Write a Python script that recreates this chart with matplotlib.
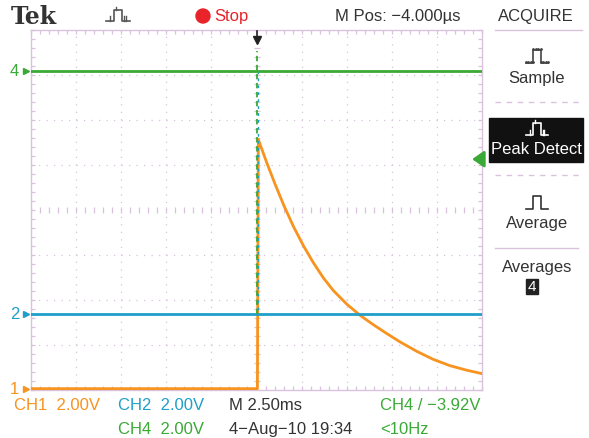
import numpy as np
import matplotlib
matplotlib.use("Agg")
import matplotlib.pyplot as plt
from matplotlib.patches import Rectangle, Circle

ch1_t = [-12.5, 0.05, 0.1, 0.565, 1.025, 1.485, 2.04, 2.595, 3.15, 3.70, 4.26,
         5.0, 5.74, 6.48, 7.22, 7.95, 8.88, 9.8, 10.73, 11.65, 12.48]
ch1_v = [0.0, 0.0, 11.08, 10.05, 9.1, 8.2, 7.22, 6.36, 5.6, 4.93, 4.36,
         3.76, 3.26, 2.84, 2.45, 2.08, 1.66, 1.3, 1.02, 0.82, 0.67]
ch2_t = [-12.5, 12.5]
ch2_v = [0.0, 0.0]
ch4_t = [-12.5, 12.5]
ch4_v = [0.0, 0.0]
# pico do modo peak detect no instante do disparo
spike_t = [0.0, 0.0]
ch4_spike_v = [-10.8, 0.9]
ch2_spike_v = [0.0, 10.9]
trig_t = 0.0
trig_level = -3.92

volts_div = 2.0
ms_div = 2.5
offset = {1: 0.03, 2: 1.69, 4: 7.09}  # posicao do terra de cada canal (div)

c_ch1 = "#f7931e"
c_ch2 = "#1f9fc9"
c_ch4 = "#3aa935"
c_grid = "#d9c3dc"
c_txt = "#333333"
c_red = "#e8232a"

plt.rcParams['font.family'] = ['Liberation Sans', 'DejaVu Sans']

W, H = 589, 439
fig = plt.figure(figsize=(W / 100, H / 100), dpi=100, facecolor="white")

# camada em pixels para textos e menus
ov = fig.add_axes([0, 0, 1, 1], facecolor="none", zorder=0)
ov.set_xlim(0, W)
ov.set_ylim(H, 0)
ov.axis("off")

ax = fig.add_axes([31 / W, 48 / H, 451 / W, 360 / H], facecolor="white", zorder=1)
ax.set_xlim(-5 * ms_div, 5 * ms_div)
ax.set_ylim(0, 8)


def to_div(v, ch):
    return np.array(v) / volts_div + offset[ch]


# graticula
for t in np.arange(-4, 5) * ms_div:
    if t != 0:
        ax.axvline(t, color=c_grid, lw=0.9, ls=(0, (1, 5)), zorder=0)
for y in range(1, 8):
    if y != 4:
        ax.axhline(y, color=c_grid, lw=0.9, ls=(0, (1, 5)), zorder=0)
ct = np.arange(-12.5, 12.51, 0.5)
ax.scatter(ct, np.full(len(ct), 4), marker="|", s=14, color=c_grid, lw=0.9, zorder=0)
cy = np.arange(0, 8.01, 0.2)
ax.scatter(np.zeros(len(cy)), cy, marker="_", s=14, color=c_grid, lw=0.9, zorder=0)
for s in ax.spines.values():
    s.set_color(c_grid)
    s.set_linewidth(1.0)
ax.set_xticks([])
ax.set_yticks([])
ax.set_xticks(np.arange(-12.5, 12.51, 0.5), minor=True)
ax.set_yticks(np.arange(0, 8.01, 0.2), minor=True)
ax.tick_params(which="minor", direction="in", length=3, color=c_grid, width=0.9,
               top=True, right=True, labelbottom=False, labelleft=False)

# tracos
ax.plot(ch1_t, to_div(ch1_v, 1), color=c_ch1, lw=2.0, zorder=3, solid_joinstyle="round")
ax.plot(ch2_t, to_div(ch2_v, 2), color=c_ch2, lw=2.0, zorder=4)
ax.plot(ch4_t, to_div(ch4_v, 4), color=c_ch4, lw=2.0, zorder=5)
ax.plot(spike_t, to_div(ch4_spike_v, 4), color=c_ch4, lw=1.3, ls=(0, (3, 2)), zorder=4)
ax.plot([t + 0.06 for t in spike_t], to_div(ch2_spike_v, 2), color=c_ch2, lw=1.0,
        ls=(2, (2, 3)), zorder=4)

# marcador do disparo (topo)
ax.plot([trig_t, trig_t], [7.98, 7.8], color="#222222", lw=1.2, zorder=6, clip_on=False)
ax.plot([trig_t], [7.78], marker="v", ms=6, color="#222222", zorder=6, clip_on=False)

# marcadores de canal na esquerda
for ch, col in [(4, c_ch4), (2, c_ch2), (1, c_ch1)]:
    ax.text(-0.026, offset[ch], str(ch), color=col, fontsize=12, ha="right", va="center",
            transform=ax.get_yaxis_transform(), clip_on=False)
    ax.plot([-0.012], [offset[ch]], marker=">", ms=4.5, color=col,
            transform=ax.get_yaxis_transform(), clip_on=False)

# nivel de disparo na direita (seta dentro da graticula)
lvl = to_div([trig_level], 4)[0]
ax.annotate("", xy=(0.972, lvl), xytext=(1.003, lvl), xycoords=ax.get_yaxis_transform(),
            arrowprops=dict(arrowstyle="-|>,head_length=0.5,head_width=0.35",
                            color=c_ch4, lw=2.0, mutation_scale=14),
            annotation_clip=False, zorder=6)


def pulse(x0, y0, w, h, color, kind):
    # icone do modo de aquisicao, em pixels
    xs = [x0 - w / 2, x0 - w / 6, x0 - w / 6, x0 + w / 6, x0 + w / 6, x0 + w / 2]
    ys = [y0, y0, y0 - h, y0 - h, y0, y0]
    ov.plot(xs, ys, color=color, lw=1.2)
    if kind == "sample":
        for xx in np.linspace(x0 - w / 2, x0 - w / 6, 4):
            ov.plot([xx], [y0 - 1.5], marker=".", ms=2, color=color)
        for xx in np.linspace(x0 + w / 6, x0 + w / 2, 4):
            ov.plot([xx], [y0 - 1.5], marker=".", ms=2, color=color)
        for xx in np.linspace(x0 - w / 6, x0 + w / 6, 4):
            ov.plot([xx], [y0 - h - 1.5], marker=".", ms=2, color=color)
    if kind == "peak":
        for xx in [x0 - w / 3, x0 + w / 3, x0 + w / 4]:
            ov.plot([xx, xx], [y0, y0 - h * 0.45], color=color, lw=1.0)
        ov.plot([x0 - w / 12, x0 - w / 12], [y0 - h, y0 - h - 3], color=color, lw=1.0)


# cabecalho
ov.text(11, 17, "Tek", fontsize=17, fontweight="bold", family="DejaVu Serif",
        color=c_txt, va="center", ha="left")
pulse(118, 22, 24, 11, "#555555", "peak")
ov.add_patch(Circle((203, 17), 7, color=c_red))
ov.text(214, 17, "Stop", fontsize=12, color=c_red, va="center", ha="left")
ov.text(398, 17, "M Pos: \u22124.000\u00b5s", fontsize=12, color=c_txt, va="center", ha="center")
ov.text(536, 17, "ACQUIRE", fontsize=12, color=c_txt, va="center", ha="center")
ov.plot([495, 582], [31, 31], color=c_grid, lw=1)

# menu lateral
pulse(537, 64, 22, 13, "#444444", "sample")
ov.text(537, 79, "Sample", fontsize=12, color=c_txt, va="center", ha="center")
ov.plot([495, 580], [103, 103], color=c_grid, lw=1, ls=(0, (4, 4)))
ov.add_patch(Rectangle((489, 119), 94, 44, color="#111111"))
pulse(537, 136, 22, 12, "white", "peak")
ov.text(536, 150, "Peak Detect", fontsize=12, color="white", va="center", ha="center")
ov.plot([495, 580], [176, 176], color=c_grid, lw=1, ls=(0, (4, 4)))
pulse(537, 210, 22, 13, "#333333", "avg")
ov.text(537, 224, "Average", fontsize=12, color=c_txt, va="center", ha="center")
ov.plot([495, 578], [249, 249], color=c_grid, lw=1)
ov.text(537, 268, "Averages", fontsize=12, color=c_txt, va="center", ha="center")
ov.add_patch(Rectangle((526, 280), 12, 15, color="#222222"))
ov.text(532, 287.5, "4", fontsize=11, color="white", va="center", ha="center")

# rodape
ov.text(14, 406, "CH1  2.00V", fontsize=12, color=c_ch1, va="center", ha="left")
ov.text(118, 406, "CH2  2.00V", fontsize=12, color=c_ch2, va="center", ha="left")
ov.text(229, 406, "M 2.50ms", fontsize=12, color=c_txt, va="center", ha="left")
ov.text(380, 406, "CH4 / \u22123.92V", fontsize=12, color=c_ch4, va="center", ha="left")
ov.text(118, 430, "CH4  2.00V", fontsize=12, color=c_ch4, va="center", ha="left")
ov.text(229, 430, "4\u2212Aug\u221210 19:34", fontsize=12, color=c_txt, va="center", ha="left")
ov.text(380, 430, "<10Hz", fontsize=12, color=c_ch4, va="center", ha="left")

fig.savefig("out.png", dpi=100, facecolor="white")
